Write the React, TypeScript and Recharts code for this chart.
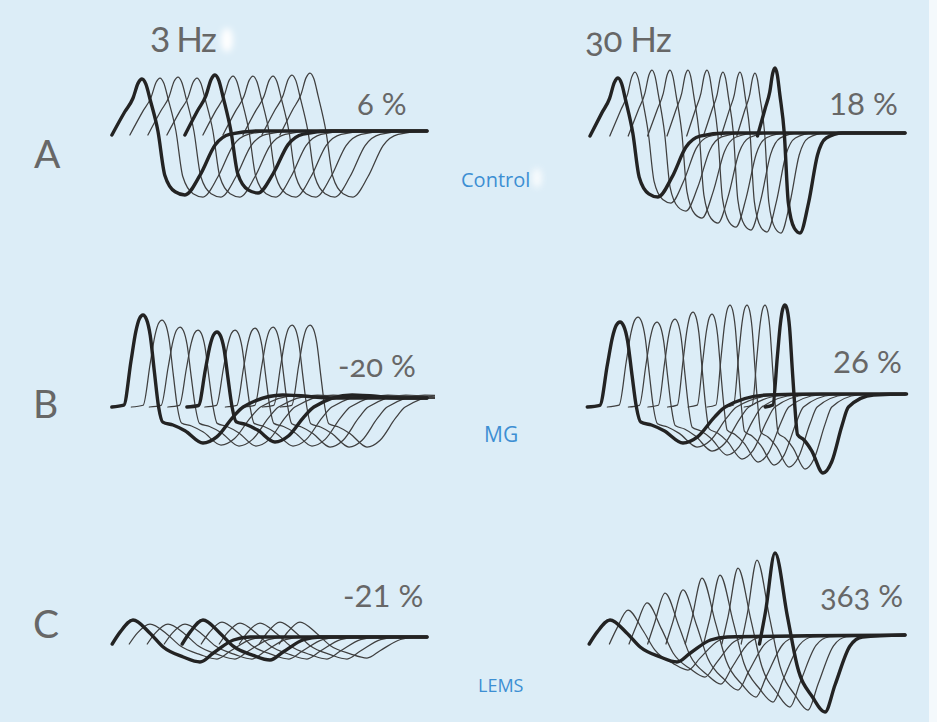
import React from 'react';
import { LineChart, Line, XAxis, YAxis } from 'recharts';

// ---------- labels ----------
const ROW_LABELS = ['A', 'B', 'C'];
const FREQ_LABELS = ['3 Hz', '30 Hz'];
const GROUP_LABELS = ['Control', 'MG', 'LEMS'];
const CHANGE_LABELS = ['6 %', '18 %', '-20 %', '26 %', '-21 %', '363 %'];

// ---------- data: 10 responses per train (time of peak in ms, amplitudes in mV) ----------
// A – Control, 3 Hz
const A3_PEAK_MS = [3.7, 5.5, 7.3, 9.2, 11.0, 12.8, 14.8, 16.8, 18.7, 20.5];
const A3_PEAK_MV = [5.2, 5.3, 5.4, 5.3, 5.6, 5.5, 5.5, 5.5, 5.6, 5.8];
const A3_TROUGH_MV = [-6.4, -6.6, -6.6, -6.6, -6.2, -6.6, -6.6, -6.6, -6.6, -6.6];
const A3_WIDTH_MS = [4.3, 4.3, 4.3, 4.3, 4.3, 4.3, 4.3, 4.3, 4.3, 4.3];
// A – Control, 30 Hz
const A30_PEAK_MS = [3.8, 5.5, 7.2, 9.0, 10.8, 12.7, 14.3, 16.0, 17.5, 19.5];
const A30_PEAK_MV = [5.5, 6.1, 6.3, 6.3, 6.3, 6.3, 6.1, 6.1, 6.0, 6.5];
const A30_TROUGH_MV = [-6.4, -7.0, -7.8, -8.5, -9.0, -9.4, -9.7, -9.9, -10.0, -10.0];
const A30_WIDTH_MS = [4.0, 3.6, 3.4, 3.2, 3.0, 2.9, 2.8, 2.7, 2.6, 2.5];
// B – MG, 3 Hz
const B3_PEAK_MS = [3.8, 5.7, 7.5, 9.3, 11.2, 13.0, 15.0, 16.8, 18.7, 20.5];
const B3_PEAK_MV = [9.2, 8.7, 8.0, 7.7, 7.5, 7.7, 7.9, 8.0, 8.2, 8.2];
const B3_TROUGH_MV = [-3.6, -3.8, -3.9, -3.9, -3.5, -3.9, -3.9, -4.0, -4.0, -4.0];
const B3_WIDTH_MS = [6.0, 5.9, 5.9, 5.8, 5.8, 5.8, 5.7, 5.7, 5.7, 5.7];
// B – MG, 30 Hz
const B30_PEAK_MS = [4.0, 5.8, 7.7, 9.5, 11.3, 13.2, 15.0, 16.7, 18.5, 20.5];
const B30_PEAK_MV = [8.5, 9.0, 8.5, 8.8, 9.5, 9.3, 10.2, 10.2, 10.2, 10.2];
const B30_TROUGH_MV = [-3.6, -4.0, -4.4, -4.8, -5.2, -5.5, -5.8, -6.0, -6.2, -6.6];
const B30_WIDTH_MS = [6.3, 5.9, 5.5, 5.2, 4.9, 4.6, 4.4, 4.2, 4.0, 3.8];
// C – LEMS, 3 Hz
const C3_PEAK_MS = [2.8, 4.5, 6.3, 8.0, 9.8, 11.7, 13.5, 15.5, 17.5, 19.5];
const C3_PEAK_MV = [1.7, 1.3, 1.3, 1.3, 1.7, 1.5, 1.4, 1.4, 1.5, 1.5];
const C3_TROUGH_MV = [-2.5, -2.2, -2.2, -2.2, -2.3, -2.2, -2.2, -2.2, -2.2, -2.1];
const C3_WIDTH_MS = [6.7, 6.7, 6.7, 6.7, 6.7, 6.7, 6.7, 6.7, 6.7, 6.7];
// C – LEMS, 30 Hz
const C30_PEAK_MS = [3.0, 4.8, 6.7, 8.5, 10.3, 12.2, 14.0, 15.8, 17.7, 19.5];
const C30_PEAK_MV = [1.7, 2.7, 3.4, 4.4, 4.7, 5.9, 6.2, 6.9, 7.7, 8.4];
const C30_TROUGH_MV = [-2.5, -3.3, -4.0, -4.7, -5.3, -6.0, -6.5, -7.0, -7.3, -7.5];
const C30_WIDTH_MS = [6.7, 6.0, 5.8, 5.6, 5.5, 5.4, 5.3, 5.2, 5.1, 5.0];

// ---------- waveform shapes: [time relative to peak (in peak-to-trough units), reference, fraction] ----------
type Ref = 'S' | 'P' | 'T' | 'Z' | 'O' | 'E';
type ShapePt = [number, Ref, number];
const CONTROL_SHAPE: ShapePt[] = [
  [-0.7, 'S', 1], [-0.4, 'P', 0.37], [-0.21, 'P', 0.63], [-0.09, 'P', 0.92], [0, 'P', 1],
  [0.09, 'P', 0.9], [0.19, 'P', 0.6],
  [0.37, 'Z', 0], [0.53, 'T', 0.69], [0.77, 'T', 0.95], [1, 'T', 1], [1.35, 'T', 0.69],
  [1.7, 'T', 0.22], [2.05, 'T', 0.05], [2.7, 'Z', 0],
];
const MG_SHAPE: ShapePt[] = [
  [-0.52, 'S', 1], [-0.32, 'P', 0.02], [-0.2, 'P', 0.5], [-0.12, 'P', 0.82], [-0.06, 'P', 0.96],
  [0, 'P', 1], [0.06, 'P', 0.95], [0.12, 'P', 0.78], [0.19, 'P', 0.38],
  [0.26, 'Z', 0], [0.33, 'T', 0.42], [0.5, 'T', 0.5], [0.7, 'T', 0.66], [1, 'T', 1],
  [1.23, 'T', 0.83], [1.5, 'T', 0.28], [1.67, 'Z', 0], [2.33, 'O', 1], [3.2, 'E', 1],
];
const LEMS_SHAPE: ShapePt[] = [
  [-0.31, 'S', 1], [-0.19, 'P', 0.3], [0, 'P', 1], [0.25, 'P', 0.24], [0.45, 'T', 0.4],
  [0.75, 'T', 0.8], [1, 'T', 1], [1.2, 'T', 0.64], [1.5, 'T', 0.12], [1.75, 'Z', 0],
];

type Panel = {
  left: number; baseline: number; shape: ShapePt[];
  peakMs: number[]; peakMv: number[]; troughMv: number[]; widthMs: number[];
  thick: number[]; start: number; over: number; tail: number; endMs: number;
};

const PANELS: Panel[] = [
  { left: 105, baseline: 131, shape: CONTROL_SHAPE, peakMs: A3_PEAK_MS, peakMv: A3_PEAK_MV, troughMv: A3_TROUGH_MV, widthMs: A3_WIDTH_MS, thick: [0, 4], start: -0.4, over: 0, tail: 0, endMs: 32.2 },
  { left: 580, baseline: 133, shape: CONTROL_SHAPE, peakMs: A30_PEAK_MS, peakMv: A30_PEAK_MV, troughMv: A30_TROUGH_MV, widthMs: A30_WIDTH_MS, thick: [0, 9], start: -0.3, over: 0, tail: 0, endMs: 32.5 },
  { left: 105, baseline: 407, shape: MG_SHAPE, peakMs: B3_PEAK_MS, peakMv: B3_PEAK_MV, troughMv: B3_TROUGH_MV, widthMs: B3_WIDTH_MS, thick: [0, 4], start: 0, over: 1.2, tail: 0.9, endMs: 32.2 },
  { left: 580, baseline: 407, shape: MG_SHAPE, peakMs: B30_PEAK_MS, peakMv: B30_PEAK_MV, troughMv: B30_TROUGH_MV, widthMs: B30_WIDTH_MS, thick: [0, 9], start: 0, over: 1.2, tail: 1.3, endMs: 32.5 },
  { left: 105, baseline: 637, shape: LEMS_SHAPE, peakMs: C3_PEAK_MS, peakMv: C3_PEAK_MV, troughMv: C3_TROUGH_MV, widthMs: C3_WIDTH_MS, thick: [0, 4], start: -0.7, over: 0, tail: 0, endMs: 32.2 },
  { left: 580, baseline: 637, shape: LEMS_SHAPE, peakMs: C30_PEAK_MS, peakMv: C30_PEAK_MV, troughMv: C30_TROUGH_MV, widthMs: C30_WIDTH_MS, thick: [0, 9], start: -0.7, over: 0, tail: 0.2, endMs: 32.5 },
];

function buildTrace(p: Panel, i: number) {
  const tp = p.peakMs[i];
  const d = p.widthMs[i];
  const refs: Record<Ref, number> = { S: p.start, P: p.peakMv[i], T: p.troughMv[i], Z: 0, O: p.over, E: p.tail };
  const pts = p.shape.map(([rel, ref, f]) => ({ t: +(tp + rel * d).toFixed(3), v: +(refs[ref] * f).toFixed(3) }));
  pts.push({ t: p.endMs, v: p.tail });
  return pts;
}

const X_DOMAIN: [number, number] = [0, 33];
const Y_DOMAIN: [number, number] = [-12, 12];
const PANEL_W = 330;
const PANEL_H = 240;

function TracePanel({ p }: { p: Panel }) {
  const order = p.peakMs.map((_, i) => i).filter((i) => !p.thick.includes(i)).concat(p.thick);
  return (
    <div style={{ position: 'absolute', left: p.left, top: p.baseline - PANEL_H / 2 }}>
      <LineChart width={PANEL_W} height={PANEL_H} margin={{ top: 0, right: 0, bottom: 0, left: 0 }}>
        <XAxis type="number" dataKey="t" domain={X_DOMAIN} hide allowDataOverflow />
        <YAxis type="number" domain={Y_DOMAIN} hide allowDataOverflow />
        {order.map((i) => {
          const thick = p.thick.includes(i);
          return (
            <Line
              key={i}
              data={buildTrace(p, i)}
              dataKey="v"
              type="monotone"
              dot={false}
              activeDot={false}
              stroke={thick ? '#232323' : '#3f3f3f'}
              strokeWidth={thick ? 3.4 : 1.25}
              strokeLinejoin="round"
              strokeLinecap="round"
              isAnimationActive={false}
            />
          );
        })}
      </LineChart>
    </div>
  );
}

const TXT = '#676767';
const BLUE = '#3d8fd3';
const numStyle: React.CSSProperties = { fontVariantNumeric: 'oldstyle-nums', fontFeatureSettings: '"onum"' };

export default function App() {
  return (
    <div style={{ position: 'absolute', left: 0, top: 0, width: 937, height: 722, overflow: 'hidden', background: '#dcedf7', fontFamily: 'Lato, "Noto Sans", sans-serif' }}>
      <div style={{ position: 'absolute', left: 929, top: 0, width: 8, height: 722, background: '#f4f9fc' }} />
      {PANELS.map((p, k) => (
        <TracePanel key={k} p={p} />
      ))}
      <svg width={937} height={722} style={{ position: 'absolute', left: 0, top: 0, pointerEvents: 'none' }}>
        <defs>
          <filter id="blur" x="-50%" y="-50%" width="200%" height="200%">
            <feGaussianBlur stdDeviation="3" />
          </filter>
        </defs>
        <ellipse cx={227} cy={40} rx={6} ry={12} fill="#ffffff" filter="url(#blur)" />
        <ellipse cx={537} cy={178} rx={5} ry={10} fill="#ffffff" opacity={0.8} filter="url(#blur)" />
        <g fill={TXT} fontFamily='Lato, "Noto Sans", sans-serif'>
          <text x={150} y={52} fontSize={35} letterSpacing={-1.5}>{FREQ_LABELS[0]}</text>
          <text x={585} y={52} fontSize={35} letterSpacing={-0.5} style={numStyle}>{FREQ_LABELS[1]}</text>
          <text x={34} y={168} fontSize={39}>{ROW_LABELS[0]}</text>
          <text x={33} y={418} fontSize={39}>{ROW_LABELS[1]}</text>
          <text x={33} y={638} fontSize={39}>{ROW_LABELS[2]}</text>
          <text x={357} y={115} fontSize={31} style={numStyle}>{CHANGE_LABELS[0]}</text>
          <text x={829} y={115} fontSize={31}>{CHANGE_LABELS[1]}</text>
          <text x={338} y={377} fontSize={31} style={numStyle}>{CHANGE_LABELS[2]}</text>
          <text x={833} y={373} fontSize={31}>{CHANGE_LABELS[3]}</text>
          <text x={343} y={607} fontSize={31}>{CHANGE_LABELS[4]}</text>
          <text x={820} y={607} fontSize={31} style={numStyle}>{CHANGE_LABELS[5]}</text>
        </g>
        <g fill={BLUE} fontFamily='"Open Sans", "Noto Sans", sans-serif'>
          <text x={461} y={187} fontSize={20}>{GROUP_LABELS[0]}</text>
          <text x={484} y={442} fontSize={21}>{GROUP_LABELS[1]}</text>
          <text x={478} y={692} fontSize={18}>{GROUP_LABELS[2]}</text>
        </g>
      </svg>
    </div>
  );
}
